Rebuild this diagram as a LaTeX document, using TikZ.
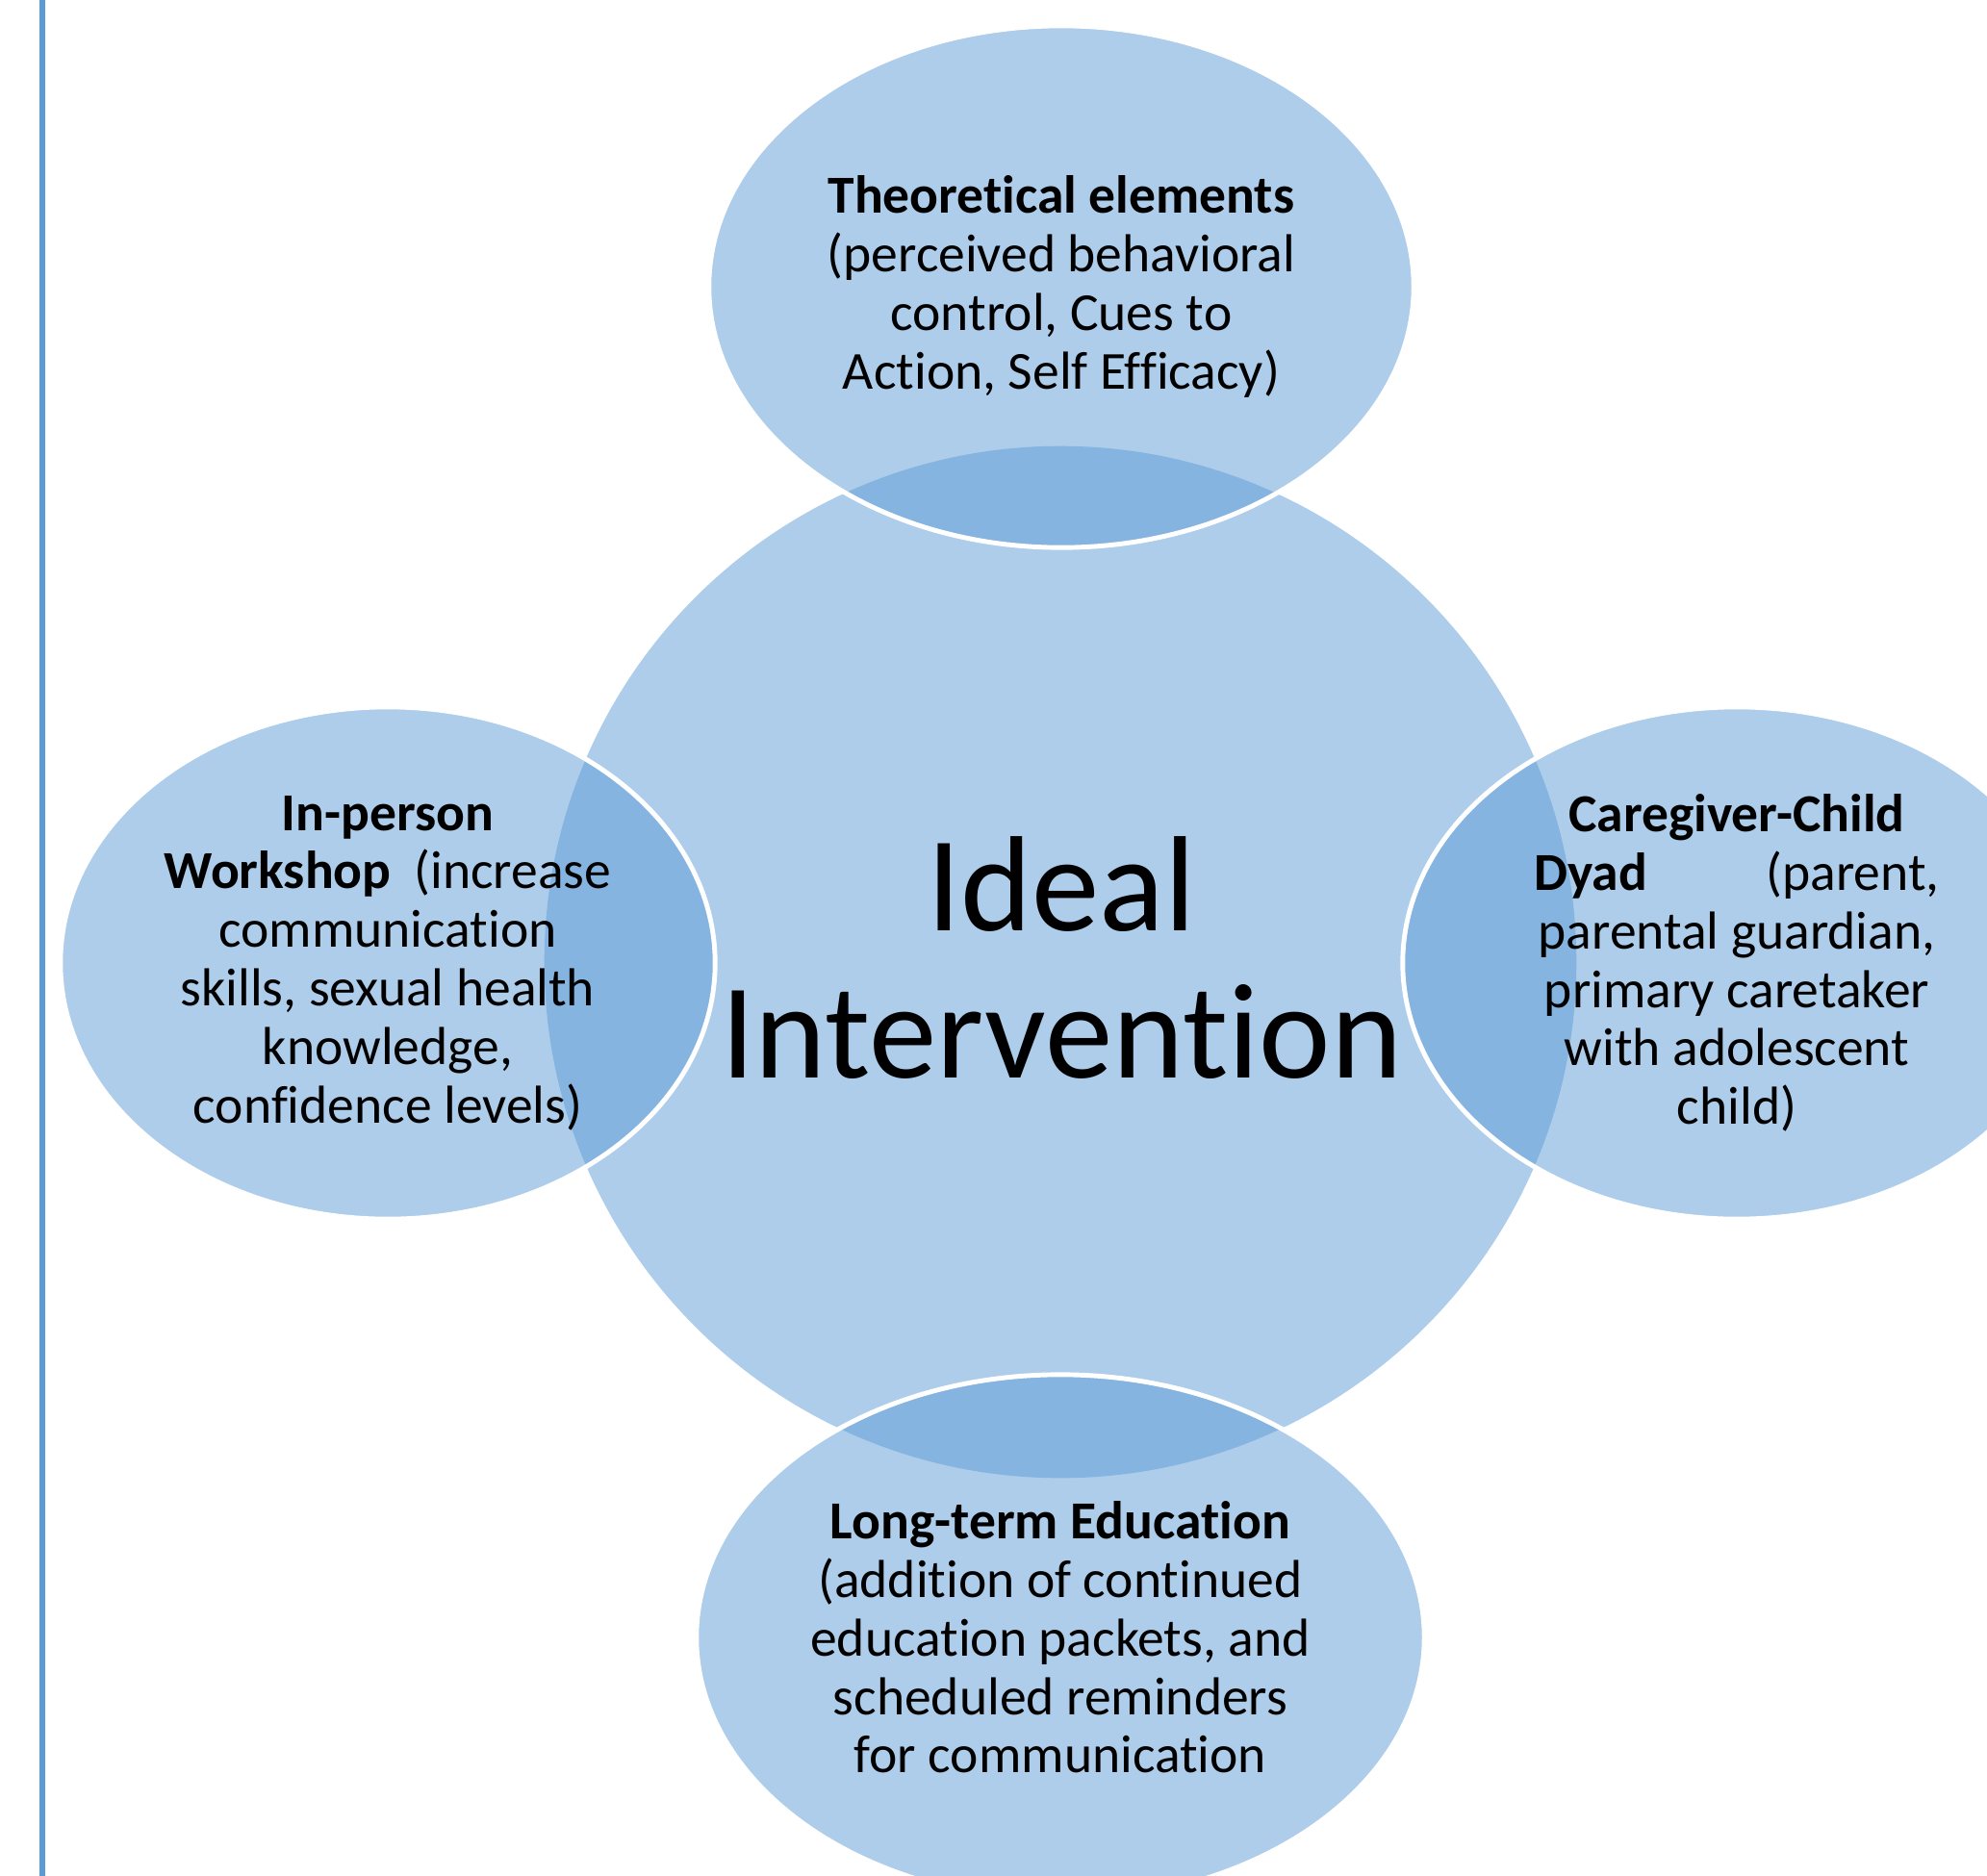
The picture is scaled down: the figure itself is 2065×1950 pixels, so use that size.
\documentclass[tikz,border=0pt]{standalone}
\usepackage{fontspec}
\setmainfont{Carlito}[Ligatures=NoCommon]
\usepackage{tikz}
\usetikzlibrary{shapes.geometric, positioning}
\definecolor{accentblue}{RGB}{91, 155, 213}

\begin{document}
\begin{tikzpicture}[
  x=0.01cm, y=-0.01cm,
  hub/.style      = {circle, fill=accentblue, fill opacity=0.5, draw=none,
                     minimum size=10.72cm, inner sep=0pt},
  petal/.style    = {ellipse, fill=accentblue, fill opacity=0.5, text opacity=1,
                     draw=white, draw opacity=1, line width=1.4pt, inner sep=0pt,
                     align=center, font=\fontsize{15.8}{17.3}\selectfont},
  hubtext/.style  = {align=center, inner sep=0pt,
                     font=\fontsize{40.1}{43.5}\selectfont},
  rule/.style     = {draw=accentblue, line width=1.7pt},
]
\useasboundingbox (0,0) rectangle (2065,1950);

%% page rule on the left
\coordinate (ruletop) at (44,0);
\coordinate (rulebot) at (44,1950);
\draw[rule] (ruletop) -- (rulebot);

%% central circle
\node[hub] (hub) at (1102,1000) {};

%% the four satellites
\node[petal, minimum width=7.32cm, minimum height=5.42cm] (theory) at (1103,298)
  {\textbf{Theoretical elements}\\
   (perceived behavioral\\
   control, Cues to\\
   Action, Self Efficacy)};

\node[petal, minimum width=6.80cm, minimum height=5.32cm] (workshop) at (403,1001)
  {\textbf{In-person}\\
   \makebox[4.64cm][s]{\textbf{Workshop}\ \ (increase}\\
   communication\\
   skills, sexual health\\
   knowledge,\\
   confidence levels)};

\node[petal, minimum width=6.94cm, minimum height=5.32cm] (dyad) at (1805,1001)
  {\textbf{Caregiver-Child}\\
   \makebox[4.21cm][s]{\textbf{Dyad} (parent,}\\
   parental guardian,\\
   primary caretaker\\
   with adolescent\\
   child)};

\node[petal, minimum width=7.56cm, minimum height=5.46cm] (education) at (1102,1702)
  {\textbf{Long-term Education}\\
   (addition of continued\\
   education packets, and\\
   scheduled reminders\\
   for communication};

%% hub label on top of everything
\node[hubtext] (hublabel) at (1103,996) {Ideal\\Intervention};

\end{tikzpicture}
\end{document}
